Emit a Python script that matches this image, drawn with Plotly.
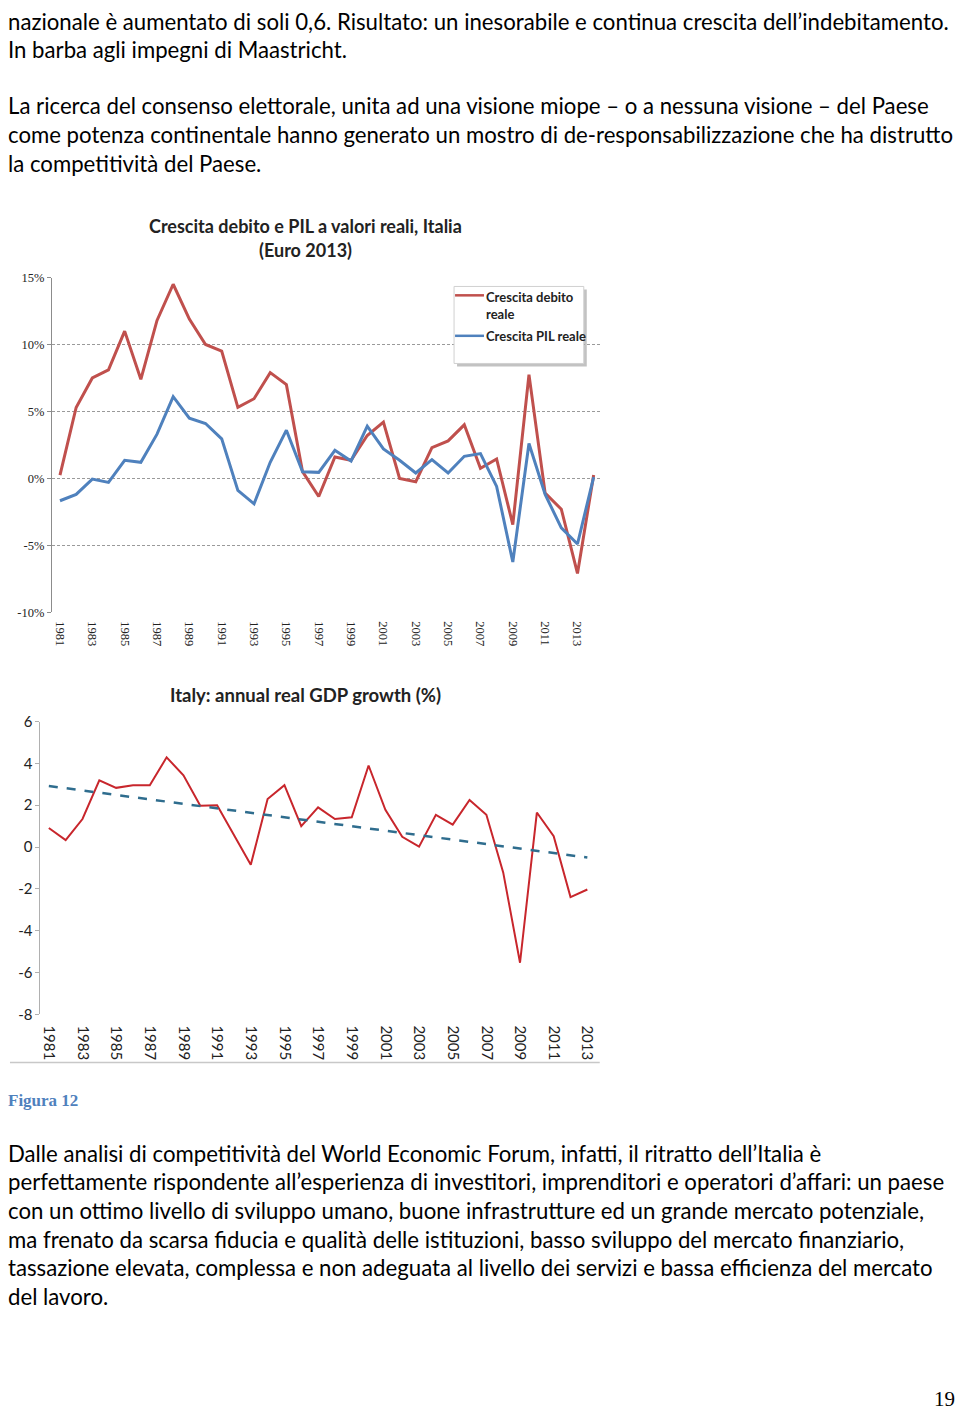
import plotly.graph_objects as go

W, H = 960, 1418

# ---------------- data ----------------
years_top = list(range(1981, 2015))
debt_growth = [0.24, 5.3, 7.5, 8.1, 11.0, 7.4, 11.8, 14.5, 11.9, 10.0, 9.5, 5.3, 5.95, 7.9, 7.0,
               0.5, -1.35, 1.6, 1.35, 3.2, 4.2, 0.0, -0.25, 2.3, 2.8, 4.0, 0.75, 1.45, -3.45,
               7.75, -1.1, -2.3, -7.1, 0.25]
gdp_growth_top = [-1.67, -1.2, -0.05, -0.3, 1.35, 1.2, 3.3, 6.1, 4.5, 4.1, 2.95, -0.9, -1.9, 1.2, 3.6,
                  0.5, 0.45, 2.1, 1.3, 3.9, 2.2, 1.35, 0.4, 1.4, 0.4, 1.65, 1.85, -0.6, -6.25,
                  2.6, -1.2, -3.7, -4.9, 0.1]

years_bot = list(range(1981, 2014))
gdp_growth = [0.91, 0.33, 1.34, 3.19, 2.83, 2.95, 2.95, 4.29, 3.43, 1.97, 2.0, 0.6, -0.85, 2.3, 2.96,
              1.0, 1.9, 1.34, 1.42, 3.9, 1.78, 0.49, 0.02, 1.54, 1.07, 2.25, 1.54, -1.21, -5.53,
              1.65, 0.52, -2.39, -2.03]
trend_years = [1981, 2013]
trend_values = [2.92, -0.5]

label_years = list(range(1981, 2014, 2))
top_yticks = [-10, -5, 0, 5, 10, 15]
top_yticktext = ["-10%", "-5%", "0%", "5%", "10%", "15%"]
bot_yticks = [-8, -6, -4, -2, 0, 2, 4, 6]
bot_yticktext = ["-8", "-6", "-4", "-2", "0", "2", "4", "6"]

legend_names = ["Crescita debito<br>reale", "Crescita PIL reale"]

para_top = [
    "nazionale è aumentato di soli 0,6. Risultato: un inesorabile e continua crescita dell’indebitamento.",
    "In barba agli impegni di Maastricht.",
    "La ricerca del consenso elettorale, unita ad una visione miope – o a nessuna visione – del Paese",
    "come potenza continentale hanno generato un mostro di de-responsabilizzazione che ha distrutto",
    "la competitività del Paese.",
]
para_top_y = [12, 40, 97, 126, 155]
para_bot = [
    "Dalle analisi di competitività del World Economic Forum, infatti, il ritratto dell’Italia è",
    "perfettamente rispondente all’esperienza di investitori, imprenditori e operatori d’affari: un paese",
    "con un ottimo livello di sviluppo umano, buone infrastrutture ed un grande mercato potenziale,",
    "ma frenato da scarsa fiducia e qualità delle istituzioni, basso sviluppo del mercato finanziario,",
    "tassazione elevata, complessa e non adeguata al livello dei servizi e bassa efficienza del mercato",
    "del lavoro.",
]
para_bot_y = [1158, 1187, 1216, 1245, 1274, 1303]

# ---------------- helpers ----------------
def px(x):
    return x / W

def py(y):
    return 1 - y / H

BODY_FONT = "Lato"
RED = "#C0504D"
BLUE = "#4F81BD"

fig = go.Figure()

fig.add_trace(go.Scatter(x=years_top, y=debt_growth, mode="lines", name=legend_names[0], showlegend=False,
                         line=dict(color=RED, width=3), xaxis="x", yaxis="y"))
fig.add_trace(go.Scatter(x=years_top, y=gdp_growth_top, mode="lines", name=legend_names[1], showlegend=False,
                         line=dict(color=BLUE, width=3), xaxis="x", yaxis="y"))
fig.add_trace(go.Scatter(x=years_bot, y=gdp_growth, mode="lines", showlegend=False,
                         line=dict(color="#C8262C", width=2), xaxis="x2", yaxis="y2"))
fig.add_trace(go.Scatter(x=trend_years, y=trend_values, mode="lines", showlegend=False,
                         line=dict(color="#2F6D8E", width=2.5, dash="dash"), xaxis="x2", yaxis="y2"))

top_dom_y = [py(610), py(271)]
bot_dom_y = [py(1017.3), py(720.7)]
top_dom_x = [px(52), px(603)]
bot_dom_x = [px(40.5), px(597)]
top_zero = top_dom_y[0] + (0 - (-10)) / 25 * (top_dom_y[1] - top_dom_y[0])
bot_zero = bot_dom_y[0] + (0 - (-8)) / 14 * (bot_dom_y[1] - bot_dom_y[0])
half_years = [y + 0.5 for y in range(1981, 2014)]

axis_grey = "#8c8c8c"

fig.update_layout(
    width=W, height=H, margin=dict(l=0, r=0, t=0, b=0),
    paper_bgcolor="white", plot_bgcolor="rgba(0,0,0,0)",
    showlegend=False,
    xaxis=dict(domain=top_dom_x, range=[1980.5, 2014.5], anchor="y",
               tickvals=label_years, ticktext=[str(v) for v in label_years],
               tickangle=90, ticks="", showgrid=False, zeroline=False, showline=False,
               ticklabelstandoff=8,
               tickfont=dict(family="Liberation Serif", size=12.5, color="#222")),
    xaxis3=dict(domain=top_dom_x, range=[1980.5, 2014.5], overlaying="x", anchor="free",
                position=top_zero, tickvals=half_years, ticks="outside", ticklen=5,
                tickcolor=axis_grey, showticklabels=False, showgrid=False, zeroline=False,
                showline=True, linecolor=axis_grey, linewidth=1),
    yaxis=dict(domain=top_dom_y, range=[-10, 15], anchor="x",
               tickvals=top_yticks, ticktext=top_yticktext,
               showgrid=True, gridcolor="#9a9a9a", griddash="3px,2px", gridwidth=1,
               zeroline=False, showline=True, linecolor=axis_grey, linewidth=1,
               ticks="outside", ticklen=4, tickcolor=axis_grey,
               tickfont=dict(family="Liberation Serif", size=12.5, color="#222")),
    xaxis2=dict(domain=bot_dom_x, range=[1980.5, 2013.5], anchor="y2",
                tickvals=label_years, ticktext=[str(v) for v in label_years],
                tickangle=90, ticks="", showgrid=False, zeroline=False, showline=False,
                ticklabelstandoff=10,
                tickfont=dict(family="Lato", size=15, color="#222")),
    xaxis4=dict(domain=bot_dom_x, range=[1980.5, 2013.5], overlaying="x2", anchor="free",
                position=bot_zero, tickvals=half_years, ticks="outside", ticklen=5,
                tickcolor="#b0b0b0", showticklabels=False, showgrid=False, zeroline=False,
                showline=True, linecolor="#b0b0b0", linewidth=1),
    yaxis2=dict(domain=bot_dom_y, range=[-8, 6], anchor="x2",
                tickvals=bot_yticks, ticktext=bot_yticktext, showgrid=False, zeroline=False,
                showline=True, linecolor="#b0b0b0", linewidth=1,
                ticks="outside", ticklen=4, tickcolor="#b0b0b0",
                tickfont=dict(family="Lato", size=15, color="#222")),
)

shapes = []
# legend box with shadow
shapes.append(dict(type="rect", xref="paper", yref="paper",
                   x0=px(458), x1=px(588), y0=py(361), y1=py(283),
                   fillcolor="#9a9a9a", line=dict(width=0), layer="above", opacity=0.6))
shapes.append(dict(type="rect", xref="paper", yref="paper",
                   x0=px(455), x1=px(585), y0=py(358), y1=py(280),
                   fillcolor="white", line=dict(color="#d0d0d0", width=1), layer="above"))
# legend samples
shapes.append(dict(type="line", xref="paper", yref="paper", layer="above",
                   x0=px(456), x1=px(485), y0=py(289), y1=py(289), line=dict(color=RED, width=2.5)))
shapes.append(dict(type="line", xref="paper", yref="paper", layer="above",
                   x0=px(456), x1=px(485), y0=py(330), y1=py(330), line=dict(color=BLUE, width=2.5)))
# bottom chart border line
shapes.append(dict(type="line", xref="paper", yref="paper",
                   x0=px(10), x1=px(601), y0=py(1066), y1=py(1066),
                   line=dict(color="#c8c8c8", width=1.5)))
fig.update_layout(shapes=shapes)

ann = []
for t, y in zip(para_top + para_bot, para_top_y + para_bot_y):
    ann.append(dict(text=t, x=px(6), y=py(y), xref="paper", yref="paper",
                    xanchor="left", yanchor="middle", showarrow=False,
                    font=dict(family=BODY_FONT, size=22.2, color="#000")))
ann.append(dict(text="<b>" + legend_names[0] + "</b>", x=px(485), y=py(281), xref="paper", yref="paper",
                xanchor="left", yanchor="top", align="left", showarrow=False,
                font=dict(family="Lato", size=13, color="#222")))
ann.append(dict(text="<b>" + legend_names[1] + "</b>", x=px(485), y=py(330), xref="paper", yref="paper",
                xanchor="left", yanchor="middle", align="left", showarrow=False,
                font=dict(family="Lato", size=13, color="#222")))
ann.append(dict(text="<b>Crescita debito e PIL a valori reali, Italia</b>", x=px(306), y=py(219),
                xref="paper", yref="paper", xanchor="center", yanchor="middle", showarrow=False,
                font=dict(family="Lato", size=18, color="#222")))
ann.append(dict(text="<b>(Euro 2013)</b>", x=px(306), y=py(243),
                xref="paper", yref="paper", xanchor="center", yanchor="middle", showarrow=False,
                font=dict(family="Lato", size=18, color="#222")))
ann.append(dict(text="<b>Italy: annual real GDP growth (%)</b>", x=px(306), y=py(694),
                xref="paper", yref="paper", xanchor="center", yanchor="middle", showarrow=False,
                font=dict(family="Lato", size=18.5, color="#222")))
ann.append(dict(text="<b>Figura 12</b>", x=px(6), y=py(1105),
                xref="paper", yref="paper", xanchor="left", yanchor="middle", showarrow=False,
                font=dict(family="Liberation Serif", size=17, color="#4F81BD")))
ann.append(dict(text="19", x=px(946), y=py(1407),
                xref="paper", yref="paper", xanchor="center", yanchor="middle", showarrow=False,
                font=dict(family="Liberation Serif", size=21, color="#000")))
fig.update_layout(annotations=ann)

css_js = ("var s=document.createElement('style');"
          "s.innerHTML='html,body{margin:0;padding:0;overflow:hidden;height:1418px;width:960px;}';"
          "document.head.appendChild(s);")
fig.write_html("out.html", config={"displayModeBar": False}, post_script=css_js)
